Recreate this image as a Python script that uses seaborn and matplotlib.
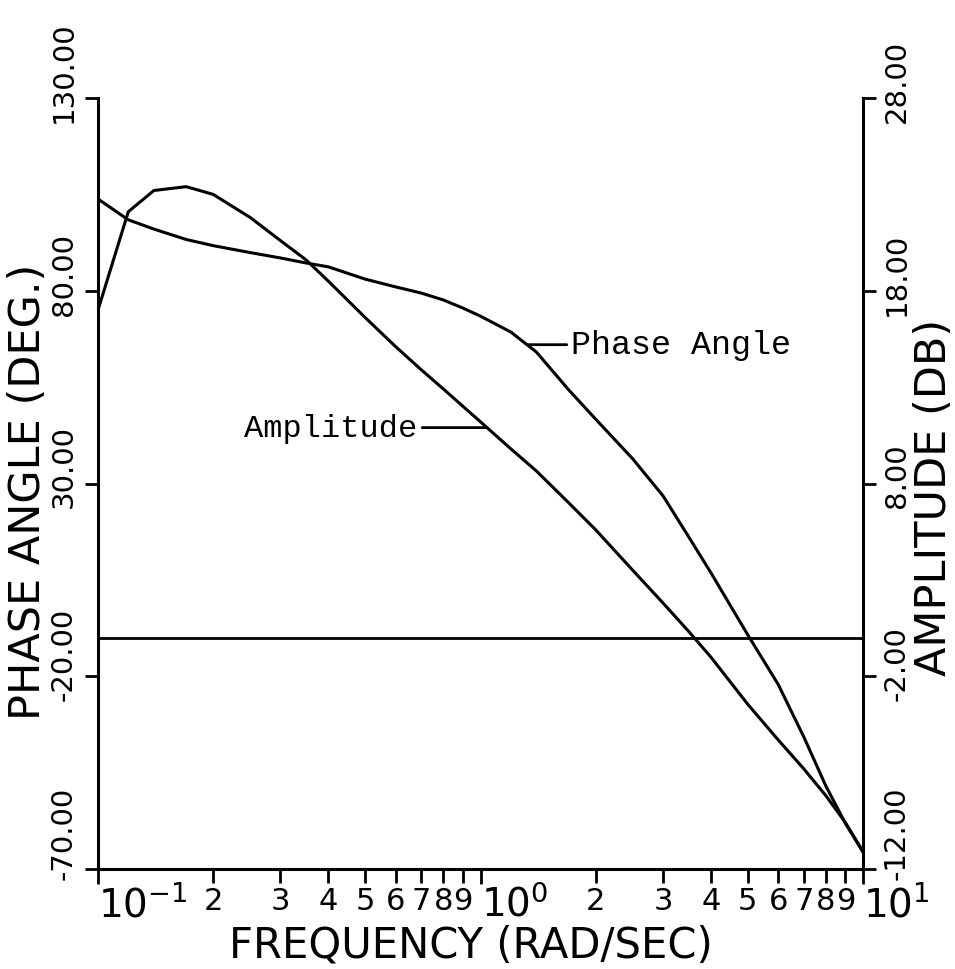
import numpy as np
import pandas as pd
import matplotlib
matplotlib.use("Agg")
import matplotlib.pyplot as plt
import matplotlib.transforms as mtransforms
import seaborn as sns

# Frequency response samples (rad/sec)
freq = [0.10, 0.12, 0.14, 0.17, 0.20, 0.25, 0.30, 0.35, 0.40, 0.50, 0.60, 0.70, 0.80, 0.90,
        1.0, 1.2, 1.4, 1.7, 2.0, 2.5, 3.0, 3.5, 4.0, 5.0, 6.0, 7.0, 8.0, 9.0, 10.0]
phase_deg = [103.8, 98.4, 96.0, 93.3, 91.7, 89.9, 88.5, 87.2, 86.2, 83.0, 81.0, 79.4, 77.6, 75.5,
             73.4, 69.3, 64.1, 54.3, 46.7, 36.4, 26.8, 16.2, 6.9, -9.3, -22.1, -35.7, -48.5, -58.2, -65.6]
amplitude_db = [17.0, 22.1, 23.2, 23.4, 23.0, 21.8, 20.6, 19.6, 18.5, 16.6, 15.1, 13.9, 12.9, 12.0,
                11.2, 9.8, 8.65, 7.0, 5.6, 3.5, 1.8, 0.33, -1.0, -3.46, -5.3, -6.8, -8.2, -9.6, -11.1]

phase_ticks = [-70, -20, 30, 80, 130]
amp_ticks = [-12, -2, 8, 18, 28]
major_freq = [0.1, 1.0, 10.0]
major_freq_labels = [r"$\mathregular{10^{-1}}$", r"$\mathregular{10^{0}}$", r"$\mathregular{10^{1}}$"]
minor_freq = [0.2, 0.3, 0.4, 0.5, 0.6, 0.7, 0.8, 0.9, 2, 3, 4, 5, 6, 7, 8, 9]
minor_freq_labels = ["2", "3", "4", "5", "6", "7", "8", "9", "2", "3", "4", "5", "6", "7", "8", "9"]

df = pd.DataFrame({"freq": freq, "phase": phase_deg, "amp": amplitude_db})

sns.set_style("white")
plt.rcParams["font.family"] = ["DejaVu Sans"]
plt.rcParams["text.color"] = "black"
plt.rcParams["xtick.color"] = "black"
plt.rcParams["ytick.color"] = "black"
plt.rcParams["xtick.labelcolor"] = "black"
plt.rcParams["ytick.labelcolor"] = "black"

W, H = 955, 970
fig = plt.figure(figsize=(W / 100, H / 100), dpi=100)
left_px, right_px, top_px, bot_px = 98, 863, 99, 870
ax = fig.add_axes([left_px / W, 1 - bot_px / H, (right_px - left_px) / W, (bot_px - top_px) / H])
ax.set_xscale("log")
ax.set_xlim(0.1, 10)
ax.set_ylim(-70, 130)

lw = 2.2
sns.lineplot(data=df, x="freq", y="phase", ax=ax, color="black", linewidth=lw, sort=False)

ax2 = ax.twinx()
ax2.set_ylim(-12, 28)
sns.lineplot(data=df, x="freq", y="amp", ax=ax2, color="black", linewidth=lw, sort=False)
ax2.axhline(0, color="black", linewidth=2.0)
ax2.set_xlim(0.1, 10)

for a in (ax, ax2):
    a.set_xlabel("")
    a.set_ylabel("")
    a.spines["top"].set_visible(False)
ax.spines["right"].set_visible(False)
ax2.spines["left"].set_visible(False)
ax2.spines["bottom"].set_visible(False)
for s in ("left", "bottom"):
    ax.spines[s].set_linewidth(2.2)
    ax.spines[s].set_color("black")
ax2.spines["right"].set_linewidth(2.2)
ax2.spines["right"].set_color("black")

# y ticks (labels drawn separately, rotated)
ax.set_yticks(phase_ticks)
ax.tick_params(axis="y", direction="out", length=9.5, width=2, labelleft=False, left=True, color="black")
ax2.set_yticks(amp_ticks)
ax2.tick_params(axis="y", direction="out", length=9.5, width=2, labelright=False, right=True, color="black")

# x ticks
ax.set_xticks(major_freq)
ax.set_xticklabels(major_freq_labels)
ax.set_xticks(minor_freq, minor=True)
ax.set_xticklabels(minor_freq_labels, minor=True)
ax.tick_params(axis="x", which="major", direction="out", length=11, width=2, pad=0,
               labelsize=28, bottom=True, color="black", labelcolor="black")
ax.tick_params(axis="x", which="minor", direction="out", length=10, width=2, pad=2,
               labelsize=22, bottom=True, color="black", labelcolor="black")
for t in ax.get_xticklabels():
    t.set_horizontalalignment("left")

# rotated y tick labels
def y_labels(axis, ticks, x_axes):
    trans = mtransforms.blended_transform_factory(axis.transAxes, axis.transData)
    for v in ticks:
        off = 10 if v == min(ticks) else 24
        tr = trans + mtransforms.ScaledTranslation(0, -off / 100, fig.dpi_scale_trans)
        axis.text(x_axes, v, f"{v:.2f}", transform=tr, rotation=90, rotation_mode="anchor",
                  ha="left", va="center", fontsize=21, color="black", clip_on=False)

axw = right_px - left_px
y_labels(ax, phase_ticks, (64 - left_px) / axw)
y_labels(ax2, amp_ticks, (897 - left_px) / axw)

# axis titles
fig.text(28 / W, 1 - 492 / H, "PHASE ANGLE (DEG.)", rotation=90, ha="center", va="center",
         fontsize=31, color="black")
fig.text(934 / W, 1 - 497 / H, "AMPLITUDE (DB)", rotation=90, ha="center", va="center",
         fontsize=31, color="black")
fig.text(471 / W, 1 - 946 / H, "FREQUENCY (RAD/SEC)", ha="center", va="center",
         fontsize=30, color="black")

# curve annotations
lf = np.log10(freq)
f_pa = 1.323
y_pa = np.interp(np.log10(f_pa), lf, phase_deg)
ax.annotate("Phase Angle", xy=(f_pa, y_pa), xytext=(32, 0), textcoords="offset points",
            ha="left", va="center", fontsize=24, family="Liberation Mono", color="black",
            arrowprops=dict(arrowstyle="-", lw=2, color="black", shrinkA=1, shrinkB=0))
f_am = 1.04
y_am = np.interp(np.log10(f_am), lf, amplitude_db)
ax2.annotate("Amplitude", xy=(f_am, y_am), xytext=(-50, 0), textcoords="offset points",
             ha="right", va="center", fontsize=23, family="Liberation Mono", color="black",
             arrowprops=dict(arrowstyle="-", lw=2, color="black", shrinkA=1, shrinkB=0))

fig.savefig("out.png", dpi=100, facecolor="white")
